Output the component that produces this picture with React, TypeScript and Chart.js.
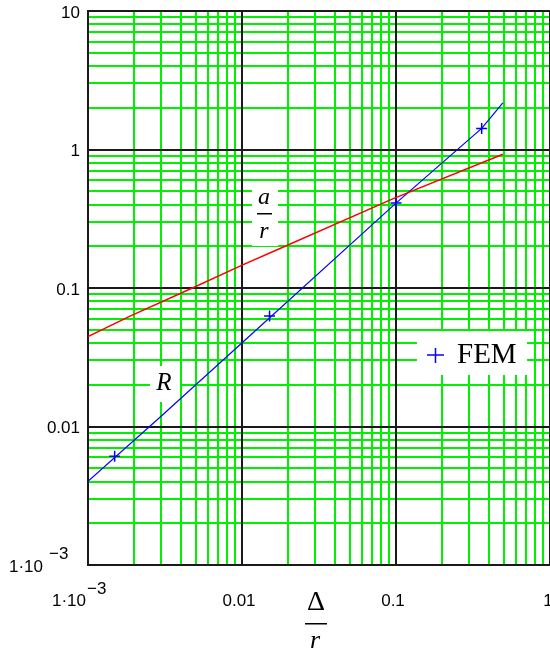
import React, { useEffect, useRef } from "react";
import { Chart, registerables } from "chart.js";

Chart.register(...registerables);

// a/r curve (red)
const aOverRX = [0.001, 0.00186, 0.00492, 0.0101, 0.0175, 0.0952, 0.494];
const aOverRY = [0.0446, 0.0624, 0.1017, 0.147, 0.192, 0.44, 0.923];

// R curve (blue)
const rX = [0.001, 0.00291, 0.0101, 0.1, 0.36, 0.494];
const rY = [0.00402, 0.01157, 0.0406, 0.41, 1.42, 2.17];

// FEM points
const femX = [0.00149, 0.0151, 0.1, 0.36];
const femY = [0.0061, 0.0628, 0.411, 1.42];

// tick labels
const xTickValues = [0.01, 0.1, 1];
const xTickLabels = ["0.01", "0.1", "1"];
const yTickValues = [10, 1, 0.1, 0.01];
const yTickLabels = ["10", "1", "0.1", "0.01"];

const X_MIN = 0.001, X_MAX = 1, Y_MIN = 0.001, Y_MAX = 10;

const GREEN = "#00f000";
const BLACK = "#1a1a1a";
const TICK_FONT = '17px "Liberation Sans", Arial, sans-serif';

function gridValues(min: number, max: number) {
  const out: { v: number; major: boolean }[] = [];
  for (let e = Math.floor(Math.log10(min)); e <= Math.ceil(Math.log10(max)); e++) {
    for (let m = 1; m <= 9; m++) {
      const v = m * Math.pow(10, e);
      if (v >= min * 0.9999 && v <= max * 1.0001) out.push({ v, major: m === 1 });
    }
  }
  return out;
}

const mathcadPlugin = {
  id: "mathcadLook",
  beforeDraw(chart: any) {
    const ctx = chart.ctx;
    ctx.save();
    ctx.fillStyle = "#ffffff";
    ctx.fillRect(0, 0, chart.width, chart.height);
    ctx.restore();
  },
  beforeDatasetsDraw(chart: any) {
    const ctx = chart.ctx;
    const xs = chart.scales.x;
    const ys = chart.scales.y;
    const { left, right, top, bottom } = chart.chartArea;
    const xv = gridValues(X_MIN, X_MAX);
    const yv = gridValues(Y_MIN, Y_MAX);
    ctx.save();
    const drawSet = (major: boolean) => {
      ctx.strokeStyle = major ? BLACK : GREEN;
      ctx.lineWidth = 2;
      ctx.beginPath();
      xv.filter((g) => g.major === major).forEach((g) => {
        const p = Math.round(xs.getPixelForValue(g.v));
        ctx.moveTo(p, top - 1);
        ctx.lineTo(p, bottom + 1);
      });
      yv.filter((g) => g.major === major).forEach((g) => {
        const p = Math.round(ys.getPixelForValue(g.v));
        ctx.moveTo(left - 1, p);
        ctx.lineTo(right + 1, p);
      });
      ctx.stroke();
    };
    drawSet(false);
    drawSet(true);

    // white label backgrounds
    ctx.fillStyle = "#ffffff";
    ctx.fillRect(417, 331, 110, 44); // legend
    ctx.fillRect(150, 366, 30, 36); // R
    ctx.fillRect(252, 186, 26, 60); // a/r
    ctx.restore();
  },
  afterDraw(chart: any) {
    const ctx = chart.ctx;
    const xs = chart.scales.x;
    const ys = chart.scales.y;
    ctx.save();
    ctx.fillStyle = "#000000";
    ctx.font = TICK_FONT;
    ctx.textBaseline = "middle";

    // y tick labels
    ctx.textAlign = "right";
    yTickValues.forEach((v, i) => {
      const p = ys.getPixelForValue(v);
      ctx.fillText(yTickLabels[i], 80, p + 2);
    });
    // y min label 1·10^-3
    {
      const p = ys.getPixelForValue(Y_MIN);
      ctx.textAlign = "left";
      ctx.fillText("1\u00b710", 9, p + 2);
      ctx.fillText("\u22123", 49, p - 11);
    }
    // x tick labels
    ctx.textAlign = "center";
    xTickValues.forEach((v, i) => {
      const p = xs.getPixelForValue(v);
      ctx.fillText(xTickLabels[i], v === 1 ? p - 2 : p - 3, 601);
    });
    {
      const p = xs.getPixelForValue(X_MIN);
      ctx.textAlign = "left";
      ctx.fillText("1\u00b710", p - 36, 601);
      ctx.fillText("\u22123", p - 1, 589);
    }

    // axis annotation Δ / r
    ctx.textAlign = "center";
    ctx.font = '28px "Liberation Serif", "Times New Roman", serif';
    ctx.fillText("\u0394", 316, 603);
    ctx.fillRect(305, 623, 22, 1.5);
    ctx.font = 'italic 26px "Liberation Serif", "Times New Roman", serif';
    ctx.fillText("r", 315, 641);

    // curve labels
    ctx.font = 'italic 24px "Liberation Serif", "Times New Roman", serif';
    ctx.fillText("a", 264, 198);
    ctx.fillRect(257, 213, 15, 1.5);
    ctx.fillText("r", 264, 232);
    ctx.font = 'italic 25px "Liberation Serif", "Times New Roman", serif';
    ctx.fillText("R", 164, 383);

    // legend
    ctx.strokeStyle = "#0000ff";
    ctx.lineWidth = 1.5;
    ctx.beginPath();
    ctx.moveTo(427, 355);
    ctx.lineTo(444, 355);
    ctx.moveTo(435.5, 348);
    ctx.lineTo(435.5, 363);
    ctx.stroke();
    ctx.textAlign = "left";
    ctx.font = '29px "Liberation Serif", "Times New Roman", serif';
    ctx.fillText("FEM", 457, 355);
    ctx.restore();
  },
};

export default function App() {
  const ref = useRef<HTMLCanvasElement | null>(null);
  useEffect(() => {
    document.body.style.margin = "0";
    const canvas = ref.current!;
    const chart = new Chart(canvas, {
      type: "scatter",
      data: {
        datasets: [
          {
            label: "a/r",
            data: aOverRX.map((x, i) => ({ x, y: aOverRY[i] })),
            showLine: true,
            borderColor: "#ff0000",
            borderWidth: 1.5,
            pointRadius: 0,
            tension: 0,
          },
          {
            label: "R",
            data: rX.map((x, i) => ({ x, y: rY[i] })),
            showLine: true,
            borderColor: "#0000ff",
            borderWidth: 1.2,
            pointRadius: 0,
            tension: 0,
          },
          {
            label: "FEM",
            data: femX.map((x, i) => ({ x, y: femY[i] })),
            showLine: false,
            pointStyle: "cross",
            pointRadius: 5.5,
            borderColor: "#0000ff",
            backgroundColor: "#0000ff",
            pointBorderWidth: 1.5,
          },
        ],
      },
      options: {
        responsive: false,
        animation: false,
        events: [],
        layout: { autoPadding: false, padding: { left: 88, top: 11, right: 0, bottom: 89 } },
        scales: {
          x: { type: "logarithmic", min: X_MIN, max: X_MAX, display: false },
          y: { type: "logarithmic", min: Y_MIN, max: Y_MAX, display: false },
        },
        plugins: { legend: { display: false }, tooltip: { enabled: false } },
      },
      plugins: [mathcadPlugin],
    });
    return () => chart.destroy();
  }, []);
  return <canvas ref={ref} width={550} height={654} style={{ display: "block", width: 550, height: 654 }} />;
}
